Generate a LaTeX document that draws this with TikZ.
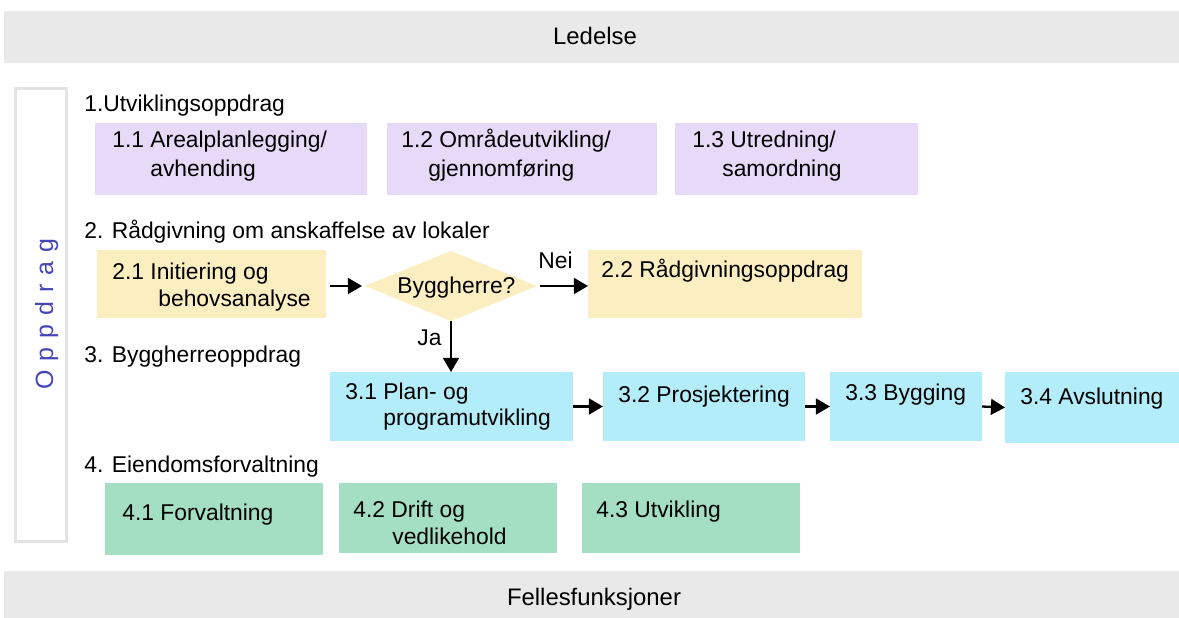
\documentclass[tikz,border=0pt]{standalone}
\usepackage{fontspec}
\setmainfont{Liberation Sans}
\usetikzlibrary{fit,shapes.geometric,arrows.meta}
\definecolor{barg}{HTML}{E9E9E9}
\definecolor{purp}{HTML}{E6DAF8}
\definecolor{yel}{HTML}{FBEEC0}
\definecolor{blu}{HTML}{B4EDFA}
\definecolor{grn}{HTML}{A4DFC3}
\definecolor{frameg}{HTML}{E3E3E3}
\definecolor{oppblue}{HTML}{4545B5}
\newcommand{\dfont}{\fontsize{13}{15}\selectfont}
\newcommand{\bfontx}{\fontsize{13.6}{16}\selectfont}
\tikzset{
  x=0.02cm, y=-0.02cm,
  box/.style={inner sep=0pt, outer sep=0pt, draw=none},
  txt/.style={inner sep=0pt, anchor=base west, font=\dfont, text=black},
  bartxt/.style={inner sep=0pt, anchor=base, font=\bfontx, text=black},
  arr/.style={line width=1.3pt, -{Triangle[length=8pt,width=9pt]}},
}
\begin{document}
\begin{tikzpicture}
\useasboundingbox (0,0) rectangle (1179,618);
\fill[white] (0,0) rectangle (1179,618);
% bars
\node[box, fill=barg, fit={(4,11)(1179,63)}] (led) {};
\node[bartxt] (ledt) at (595,45) {Ledelse};
\node[box, fill=barg, fit={(4,571)(1179,618)}] (fel) {};
\node[bartxt] (felt) at (594,605) {Fellesfunksjoner};
% Oppdrag frame
\node[box, draw=frameg, line width=0.06cm, fit={(15.5,88.5)(66.5,541.5)}] (opp) {};
\node[inner sep=0pt, rotate=90, anchor=base, text=oppblue,
  font={\fontsize{14.2}{16}\selectfont\addfontfeature{LetterSpace=36}}] (oppt) at (53,314) {Oppdrag};
% headings
\node[txt] (h1) at (84,112) {1.Utviklingsoppdrag};
\node[txt] (h2) at (84,238) {2. Rådgivning om anskaffelse av lokaler};
\node[txt] (h3) at (84,362) {3. Byggherreoppdrag};
\node[txt] (h4) at (84,472) {4. Eiendomsforvaltning};
% row 1
\node[box, fill=purp, fit={(95,123)(367,195)}] (b11) {};
\node[box, fill=purp, fit={(387,123)(657,195)}] (b12) {};
\node[box, fill=purp, fit={(675,123)(918,195)}] (b13) {};
\node[txt] (t11a) at (112,148) {1.1 Arealplanlegging/};
\node[txt] (t11b) at (150,177) {avhending};
\node[txt] (t12a) at (401,148) {1.2 Områdeutvikling/};
\node[txt] (t12b) at (428,177) {gjennomføring};
\node[txt] (t13a) at (692,148) {1.3 Utredning/};
\node[txt] (t13b) at (722,177) {samordning};
% row 2
\node[box, fill=yel, fit={(97,250)(326,318)}] (b21) {};
\node[diamond, box, fill=yel, aspect=2.5, minimum width=172*0.02cm, minimum height=70*0.02cm] (dia) at (451,286) {};
\node[txt] (diat) at (397,293) {Byggherre?};
\node[box, fill=yel, fit={(588,250)(862,318)}] (b22) {};
\node[txt] (t21a) at (112,279) {2.1 Initiering og};
\node[txt] (t21b) at (158,306) {behovsanalyse};
\node[txt] (t22) at (601,277) {2.2 Rådgivningsoppdrag};
% row 3
\node[box, fill=blu, fit={(330,372)(573,441)}] (b31) {};
\node[box, fill=blu, fit={(603,372)(805,441)}] (b32) {};
\node[box, fill=blu, fit={(830,372)(982,441)}] (b33) {};
\node[box, fill=blu, fit={(1005,372)(1179,443)}] (b34) {};
\node[txt] (t31a) at (345,399) {3.1 Plan- og};
\node[txt] (t31b) at (383,425) {programutvikling};
\node[txt] (t32) at (618,402) {3.2 Prosjektering};
\node[txt] (t33) at (845,400) {3.3 Bygging};
\node[txt] (t34) at (1020,404) {3.4 Avslutning};
% row 4
\node[box, fill=grn, fit={(105,483)(323,555)}] (b41) {};
\node[box, fill=grn, fit={(339,483)(557,553)}] (b42) {};
\node[box, fill=grn, fit={(582,483)(800,553)}] (b43) {};
\node[txt] (t41) at (122,520) {4.1 Forvaltning};
\node[txt] (t42a) at (353,517) {4.2 Drift og};
\node[txt] (t42b) at (392,544) {vedlikehold};
\node[txt] (t43) at (596,517) {4.3 Utvikling};
% connectors
\draw[arr, shorten <=0.08cm, shorten >=0.06cm] (b21.east |- dia.west) -- (dia.west);
\draw[arr, shorten <=0.06cm] (dia.east) -- (dia.east -| b22.west);
\draw[arr] (dia.south) -- (dia.south |- b31.north);
\draw[arr] (b31.east) -- (b32.west);
\draw[arr] (b32.east) -- (b33.west);
\draw[arr] (b33.east) -- (b34.west);
\node[txt] (nei) at (538,268) {Nei};
\node[txt] (ja) at (417,345) {Ja};
\end{tikzpicture}
\end{document}
